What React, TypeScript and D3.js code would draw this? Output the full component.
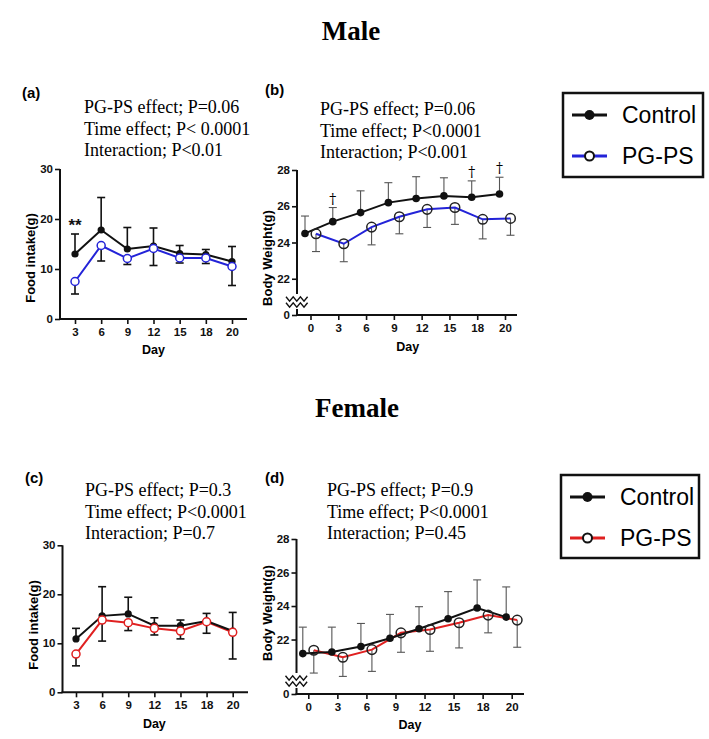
import { useRef, useEffect } from "react"
import * as d3 from "d3"

// x categories
const foodDays = ["3", "6", "9", "12", "15", "18", "20"]
const weightDays = ["0", "3", "6", "9", "12", "15", "18", "20"]

// Male food intake (g)
const maleFoodControl = [13.0, 17.8, 14.0, 14.6, 13.1, 12.9, 11.5]
const maleFoodControlSD = [4.0, 6.5, 4.3, 3.6, 1.6, 1.0, 3.0]
const maleFoodPGPS = [7.5, 14.7, 12.1, 14.1, 12.2, 12.2, 10.5]
const maleFoodPGPSSD = [2.5, 3.1, 1.2, 3.4, 1.0, 1.1, 3.8]

// Male body weight (g)
const maleWeightControl = [24.5, 25.15, 25.65, 26.2, 26.43, 26.57, 26.5, 26.68]
const maleWeightControlSD = [0.96, 0.78, 1.2, 1.1, 1.2, 1.0, 0.9, 0.92]
const maleWeightPGPS = [24.48, 23.93, 24.85, 25.42, 25.83, 25.93, 25.28, 25.33]
const maleWeightPGPSSD = [0.98, 0.99, 0.98, 0.94, 1.0, 0.93, 1.08, 0.93]

// Female food intake (g)
const femaleFoodControl = [10.9, 15.6, 16.0, 13.6, 13.6, 14.55, 12.5]
const femaleFoodControlSD = [2.15, 5.95, 3.4, 1.6, 1.15, 1.55, 3.8]
const femaleFoodPGPS = [7.8, 14.75, 14.2, 13.05, 12.5, 14.4, 12.25]
const femaleFoodPGPSSD = [2.4, 4.3, 1.6, 1.35, 1.6, 2.35, 5.45]

// Female body weight (g)
const femaleWeightControl = [21.16, 21.26, 21.58, 22.08, 22.64, 23.24, 23.88, 23.34]
const femaleWeightControlSD = [1.58, 1.48, 1.38, 1.42, 1.32, 1.62, 1.68, 1.8]
const femaleWeightPGPS = [21.36, 20.94, 21.4, 22.4, 22.6, 23.0, 23.46, 23.16]
const femaleWeightPGPSSD = [1.36, 1.14, 1.3, 1.16, 1.3, 1.5, 1.06, 1.62]

// annotations
const maleFoodStats = ["PG-PS effect; P=0.06", "Time effect; P< 0.0001", "Interaction; P<0.01"]
const maleWeightStats = ["PG-PS effect; P=0.06", "Time effect; P<0.0001", "Interaction; P<0.001"]
const femaleFoodStats = ["PG-PS effect; P=0.3", "Time effect; P<0.0001", "Interaction; P=0.7"]
const femaleWeightStats = ["PG-PS effect; P=0.9", "Time effect; P<0.0001", "Interaction; P=0.45"]
const maleFoodStarDays = ["3"]
const maleWeightDaggerDays = ["3", "18", "20"]

const foodTicks = [0, 10, 20, 30]
const weightTicks = [22, 24, 26, 28]
const legendLabels = ["Control", "PG-PS"]

const SERIF = "'Liberation Serif', 'Times New Roman', serif"
const SANS = "'Liberation Sans', Arial, sans-serif"

type PanelCfg = {
  label: string
  labelPos: [number, number]
  stats: string[]
  statsPos: [number, number]
  axisX: number
  xRange: [number, number]
  axisEnd: number
  yDomain: [number, number]
  yRange: [number, number]
  ticks: number[]
  broken: boolean
  days: string[]
  control: number[]
  controlSD: number[]
  pgps: number[]
  pgpsSD: number[]
  color: string
  offset: number
  yLabel: string
  yLabelY: number
  dayY: number
  thick: boolean
}

function drawPanel(svg: any, c: PanelCfg) {
  const g = svg.append("g")
  const x = d3.scalePoint<string>().domain(c.days).range(c.xRange)
  const y = d3.scaleLinear().domain(c.yDomain).range(c.yRange)
  const y0 = c.yRange[0]

  // panel label
  g.append("text")
    .attr("x", c.labelPos[0])
    .attr("y", c.labelPos[1])
    .attr("font-family", SANS)
    .attr("font-weight", "bold")
    .attr("font-size", 15)
    .text(c.label)

  // stats text
  c.stats.forEach((s, i) => {
    g.append("text")
      .attr("x", c.statsPos[0])
      .attr("y", c.statsPos[1] + i * 21.5)
      .attr("font-family", SERIF)
      .attr("font-size", 18)
      .text(s)
  })

  // y axis
  const yAxis = g.append("g").attr("transform", `translate(${c.axisX},0)`)
  const tickVals = c.broken ? [...c.ticks, c.yDomain[0]] : c.ticks
  yAxis
    .call(
      d3
        .axisLeft(y)
        .tickValues(tickVals)
        .tickSize(5)
        .tickPadding(2)
        .tickFormat((d: any) => (c.broken && d === c.yDomain[0] ? "0" : String(d)))
    )
    .call((a: any) => a.select(".domain").remove())
  yAxis.selectAll("line").attr("stroke", "#111").attr("stroke-width", 1.6)
  yAxis
    .selectAll("text")
    .attr("font-family", SANS)
    .attr("font-weight", "bold")
    .attr("font-size", 11.5)
    .attr("fill", "#111")

  if (c.broken) {
    g.append("line")
      .attr("x1", c.axisX).attr("x2", c.axisX)
      .attr("y1", c.yRange[1]).attr("y2", y0 - 21)
      .attr("stroke", "#111").attr("stroke-width", 2)
    g.append("line")
      .attr("x1", c.axisX).attr("x2", c.axisX)
      .attr("y1", y0 - 6).attr("y2", y0)
      .attr("stroke", "#111").attr("stroke-width", 2)
    // break squiggle
    const zig = d3.line<[number, number]>()
    for (const dy of [-16, -10]) {
      const pts: [number, number][] = d3.range(7).map((k) => [c.axisX - 11 + k * 3.6, y0 + dy + (k % 2 === 0 ? -2.2 : 2.2)])
      g.append("path").attr("d", zig(pts)).attr("fill", "none").attr("stroke", "#111").attr("stroke-width", 1.4)
    }
  } else {
    g.append("line")
      .attr("x1", c.axisX).attr("x2", c.axisX)
      .attr("y1", c.yRange[1]).attr("y2", y0)
      .attr("stroke", "#111").attr("stroke-width", 2)
  }

  // x axis
  const xAxis = g.append("g").attr("transform", `translate(0,${y0})`)
  xAxis
    .call(d3.axisBottom(x).tickSize(5).tickPadding(4))
    .call((a: any) => a.select(".domain").remove())
  xAxis.selectAll("line").attr("stroke", "#111").attr("stroke-width", 1.6)
  xAxis
    .selectAll("text")
    .attr("font-family", SANS)
    .attr("font-weight", "bold")
    .attr("font-size", 11.5)
    .attr("fill", "#111")
  g.append("line")
    .attr("x1", c.axisX - 1).attr("x2", c.axisEnd)
    .attr("y1", y0).attr("y2", y0)
    .attr("stroke", "#111").attr("stroke-width", 2)

  // axis titles
  g.append("text")
    .attr("transform", `translate(${c.axisX - 25},${c.yLabelY}) rotate(-90)`)
    .attr("text-anchor", "middle")
    .attr("font-family", SANS)
    .attr("font-weight", "bold")
    .attr("font-size", 13)
    .text(c.yLabel)
  g.append("text")
    .attr("x", (c.xRange[0] + c.xRange[1]) / 2)
    .attr("y", c.dayY)
    .attr("text-anchor", "middle")
    .attr("font-family", SANS)
    .attr("font-weight", "bold")
    .attr("font-size", 12.5)
    .text("Day")

  const ctrlX = (i: number) => (x(c.days[i]) as number) - c.offset
  const pgX = (i: number) => (x(c.days[i]) as number) + c.offset
  const barColor = c.thick ? "#111" : "#555"
  const barW = c.thick ? 1.6 : 1.1
  const cap = 4

  // error bars: control up, PG-PS down
  const bars = [
    ...c.control.map((m, i) => ({ cx: ctrlX(i), m, e: m + c.controlSD[i] })),
    ...c.pgps.map((m, i) => ({ cx: pgX(i), m, e: m - c.pgpsSD[i] })),
  ]
  bars.forEach((b) => {
    g.append("line")
      .attr("x1", b.cx).attr("x2", b.cx)
      .attr("y1", y(b.m)).attr("y2", y(b.e))
      .attr("stroke", barColor).attr("stroke-width", barW)
    g.append("line")
      .attr("x1", b.cx - cap).attr("x2", b.cx + cap)
      .attr("y1", y(b.e)).attr("y2", y(b.e))
      .attr("stroke", barColor).attr("stroke-width", barW)
  })

  const line = d3.line<[number, number]>()
  g.append("path")
    .attr("d", line(c.pgps.map((m, i) => [pgX(i), y(m)])))
    .attr("fill", "none")
    .attr("stroke", c.color)
    .attr("stroke-width", 2)
  g.append("path")
    .attr("d", line(c.control.map((m, i) => [ctrlX(i), y(m)])))
    .attr("fill", "none")
    .attr("stroke", "#111")
    .attr("stroke-width", 2)

  c.control.forEach((m, i) => {
    g.append("circle").attr("cx", ctrlX(i)).attr("cy", y(m)).attr("r", c.thick ? 3.6 : 3.8).attr("fill", "#111")
  })
  c.pgps.forEach((m, i) => {
    g.append("circle")
      .attr("cx", pgX(i))
      .attr("cy", y(m))
      .attr("r", c.thick ? 4 : 4.8)
      .attr("fill", c.thick ? "#fff" : "none")
      .attr("stroke", c.thick ? c.color : "#222")
      .attr("stroke-width", 1.5)
  })

  return { g, x, y, ctrlX }
}

function drawLegend(svg: any, box: [number, number, number, number], color: string) {
  const [x0, y0, x1, y1] = box
  const g = svg.append("g")
  g.append("rect")
    .attr("x", x0).attr("y", y0)
    .attr("width", x1 - x0).attr("height", y1 - y0)
    .attr("fill", "none").attr("stroke", "#111").attr("stroke-width", 2.5)
  const rowY = [y0 + 22, y0 + 63]
  legendLabels.forEach((lab, i) => {
    const cy = rowY[i]
    g.append("line")
      .attr("x1", x0 + 9).attr("x2", x0 + 44)
      .attr("y1", cy).attr("y2", cy)
      .attr("stroke", i === 0 ? "#111" : color).attr("stroke-width", 3)
    g.append("circle")
      .attr("cx", x0 + 26.5).attr("cy", cy)
      .attr("r", i === 0 ? 5 : 4.5)
      .attr("fill", i === 0 ? "#111" : "#fff")
      .attr("stroke", "#111").attr("stroke-width", i === 0 ? 0 : 2)
    g.append("text")
      .attr("x", x0 + 59).attr("y", cy + 8)
      .attr("font-family", SANS)
      .attr("font-size", 23)
      .text(lab)
  })
}

export default function App() {
  const svgRef = useRef<SVGSVGElement>(null)

  useEffect(() => {
    if (!svgRef.current) return
    const svg = d3.select(svgRef.current)
    svg.selectAll("*").remove()

    // section titles
    svg.append("text")
      .attr("x", 351).attr("y", 40)
      .attr("text-anchor", "middle")
      .attr("font-family", SERIF).attr("font-weight", "bold").attr("font-size", 27)
      .text("Male")
    svg.append("text")
      .attr("x", 357).attr("y", 417)
      .attr("text-anchor", "middle")
      .attr("font-family", SERIF).attr("font-weight", "bold").attr("font-size", 27)
      .text("Female")

    // (a)
    const pa = drawPanel(svg, {
      label: "(a)", labelPos: [22, 98],
      stats: maleFoodStats, statsPos: [84, 113],
      axisX: 60, xRange: [75, 232], axisEnd: 247,
      yDomain: [0, 30], yRange: [319, 169], ticks: foodTicks, broken: false,
      days: foodDays, control: maleFoodControl, controlSD: maleFoodControlSD,
      pgps: maleFoodPGPS, pgpsSD: maleFoodPGPSSD, color: "#2323d8", offset: 0,
      yLabel: "Food intake(g)", yLabelY: 258, dayY: 354, thick: true,
    })
    maleFoodStarDays.forEach((d) => {
      pa.g.append("text")
        .attr("x", pa.x(d) as number).attr("y", pa.y(17.6))
        .attr("text-anchor", "middle")
        .attr("font-family", SANS).attr("font-weight", "bold").attr("font-size", 17)
        .attr("fill", "#111")
        .text("**")
    })

    // (b)
    const pb = drawPanel(svg, {
      label: "(b)", labelPos: [265, 95],
      stats: maleWeightStats, statsPos: [320, 115],
      axisX: 297, xRange: [310.5, 505], axisEnd: 517,
      yDomain: [20, 28], yRange: [315, 170], ticks: weightTicks, broken: true,
      days: weightDays, control: maleWeightControl, controlSD: maleWeightControlSD,
      pgps: maleWeightPGPS, pgpsSD: maleWeightPGPSSD, color: "#2323d8", offset: 5.5,
      yLabel: "Body Weight(g)", yLabelY: 258, dayY: 351, thick: false,
    })
    maleWeightDaggerDays.forEach((d) => {
      const i = weightDays.indexOf(d)
      pb.g.append("text")
        .attr("x", pb.ctrlX(i))
        .attr("y", pb.y(maleWeightControl[i] + maleWeightControlSD[i]) - 4)
        .attr("text-anchor", "middle")
        .attr("font-family", "'DejaVu Serif', serif").attr("font-size", 14)
        .attr("fill", "#000")
        .text("†")
    })

    // (c)
    drawPanel(svg, {
      label: "(c)", labelPos: [25, 483],
      stats: femaleFoodStats, statsPos: [85, 496],
      axisX: 62.5, xRange: [76, 232.7], axisEnd: 248,
      yDomain: [0, 30], yRange: [692.3, 545.3], ticks: foodTicks, broken: false,
      days: foodDays, control: femaleFoodControl, controlSD: femaleFoodControlSD,
      pgps: femaleFoodPGPS, pgpsSD: femaleFoodPGPSSD, color: "#e02020", offset: 0,
      yLabel: "Food intake(g)", yLabelY: 625, dayY: 728, thick: true,
    })

    // (d)
    drawPanel(svg, {
      label: "(d)", labelPos: [265, 483],
      stats: femaleWeightStats, statsPos: [327, 496],
      axisX: 296.5, xRange: [308.3, 511.7], axisEnd: 524,
      yDomain: [18.75, 28], yRange: [694, 539], ticks: weightTicks, broken: true,
      days: weightDays, control: femaleWeightControl, controlSD: femaleWeightControlSD,
      pgps: femaleWeightPGPS, pgpsSD: femaleWeightPGPSSD, color: "#e02020", offset: 5.5,
      yLabel: "Body Weight(g)", yLabelY: 613, dayY: 729, thick: false,
    })

    drawLegend(svg, [563, 93, 703, 177], "#2323d8")
    drawLegend(svg, [561, 475, 699, 558], "#e02020")
  }, [])

  return (
    <svg
      ref={svgRef}
      width={709}
      height={739}
      style={{ position: "absolute", left: 0, top: 0, background: "#fff" }}
    />
  )
}
